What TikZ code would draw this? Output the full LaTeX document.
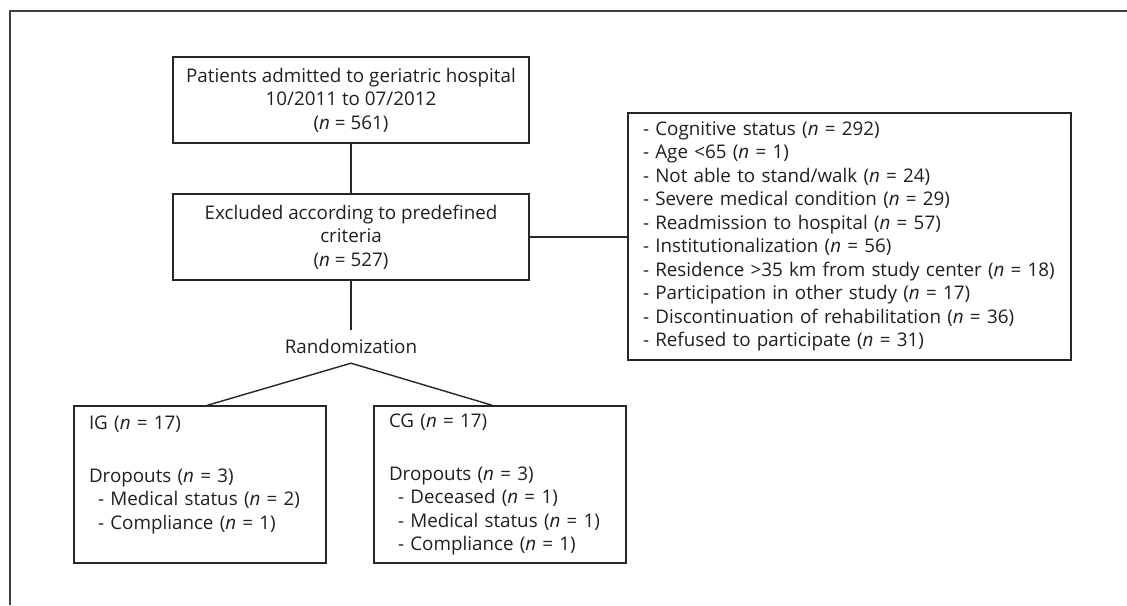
\documentclass[tikz,border=0pt]{standalone}
\usepackage{fontspec}
\setmainfont{Open Sans}
\usetikzlibrary{calc}
\begin{document}
\begin{tikzpicture}[x=1pt,y=-1pt,
  every node/.style={font=\fontsize{18.8}{23.5}\selectfont, text=black!88},
  boxc/.style={draw=black!85, line width=1.4pt, align=center, inner sep=0pt},
  boxl/.style={draw=black!85, line width=1.4pt, align=left, inner xsep=15pt, inner ysep=0pt},
  conn/.style={draw=black!85, line width=1.4pt}]
\useasboundingbox (0,0) rectangle (1127,605);
\draw[line width=1.2pt, black!75] (1127,11) -- (10,11) -- (10,605);
\node[boxc, minimum width=356pt, minimum height=86pt] (adm) at (351,100)
  {Patients admitted to geriatric hospital\\10/2011 to 07/2012\\(\textit{n} = 561)};
\node[boxc, minimum width=356pt, minimum height=86pt] (exc) at (351,237)
  {Excluded according to predefined\\criteria\\(\textit{n} = 527)};
\node[boxl, text width=413pt, minimum height=247pt] (crit) at (849.5,236.5)
  {- Cognitive status (\textit{n} = 292)\\
   - Age <65 (\textit{n} = 1)\\
   - Not able to stand/walk (\textit{n} = 24)\\
   - Severe medical condition (\textit{n} = 29)\\
   - Readmission to hospital (\textit{n} = 57)\\
   - Institutionalization (\textit{n} = 56)\\
   - Residence >35 km from study center (\textit{n} = 18)\\
   - Participation in other study (\textit{n} = 17)\\
   - Discontinuation of rehabilitation (\textit{n} = 36)\\
   - Refused to participate (\textit{n} = 31)};
\node[inner sep=0pt, minimum height=33pt] (rand) at (351,346.5) {Randomization};
\node[boxl, text width=222pt, minimum height=157pt] (ig) at (200,484.5)
  {IG (\textit{n} = 17)\\[29pt]
   Dropouts (\textit{n} = 3)\\
   \hspace*{9pt}- Medical status (\textit{n} = 2)\\
   \hspace*{9pt}- Compliance (\textit{n} = 1)\\
   \mbox{}};
\node[boxl, text width=222pt, minimum height=157pt] (cg) at (500,484.5)
  {CG (\textit{n} = 17)\\[29pt]
   Dropouts (\textit{n} = 3)\\
   \hspace*{9pt}- Deceased (\textit{n} = 1)\\
   \hspace*{9pt}- Medical status (\textit{n} = 1)\\
   \hspace*{9pt}- Compliance (\textit{n} = 1)};
\draw[conn] (adm.south) -- (exc.north);
\draw[conn] (exc.east) -- (exc.east -| crit.west);
\draw[conn] (exc.south) -- (rand.north);
\draw[conn] ($(ig.north west)+(134,0)$) -- (rand.south) -- ($(cg.north west)+(119,0)$);
\end{tikzpicture}
\end{document}
